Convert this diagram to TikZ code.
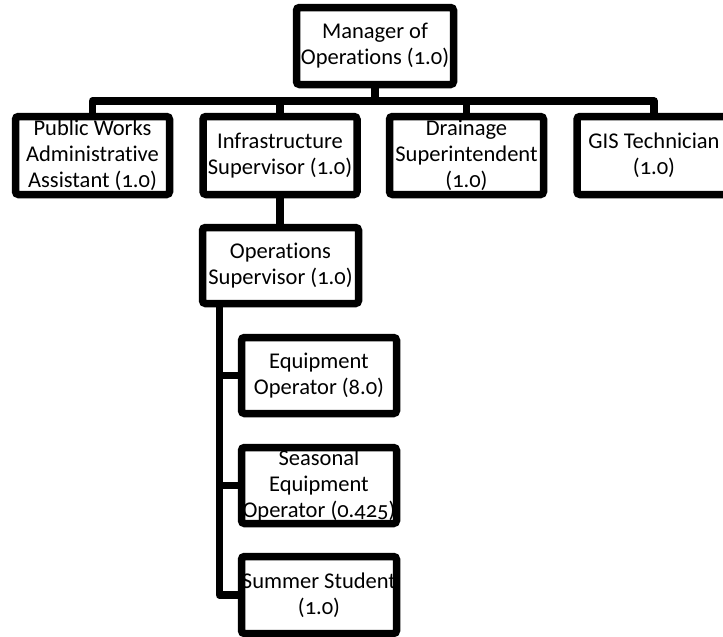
\documentclass[tikz,border=0pt]{standalone}
\usepackage{fontspec}
\setmainfont[Numbers=OldStyle,Ligatures=NoCommon]{Carlito}
\begin{document}
\begin{tikzpicture}[x=1pt,y=-1pt,
  orgbox/.style={draw=black, fill=white, line width=7.5pt, rounded corners=3pt,
    minimum width=154pt, minimum height=78pt, inner sep=0pt, align=center,
    font=\fontsize{22.5}{26}\selectfont},
  conn/.style={draw=black, line width=7.5pt, line join=round}]
\useasboundingbox (0,0) rectangle (723,637);
\begin{scope}
\clip (0,0) rectangle (723,637);
% coordinates for bus / spine
\coordinate (bus) at (0,101);
\coordinate (sp) at (219.5,0);
% nodes
\node[orgbox, minimum width=157pt, minimum height=77pt] (mgr) at (375,46) {Manager of\\Operations (1.0)};
\node[orgbox] (pwa) at (92.5,155.5) {Public Works\\Administrative\\Assistant (1.0)};
\node[orgbox] (inf) at (280,155.5) {Infrastructure\\Supervisor (1.0)};
\node[orgbox] (drn) at (466.5,155.5) {Drainage\\Superintendent\\(1.0)};
\node[orgbox] (gis) at (654,155.5) {GIS Technician\\(1.0)};
\node[orgbox, minimum width=156pt, minimum height=76pt] (ops) at (280.5,265.5) {Operations\\Supervisor (1.0)};
\node[orgbox, minimum width=155pt, minimum height=76pt] (eqp) at (319,375.5) {Equipment\\Operator (8.0)};
\node[orgbox, minimum width=155pt, minimum height=76pt] (sea) at (319,485.5) {Seasonal\\Equipment\\Operator (0.425)};
\node[orgbox, minimum width=155pt, minimum height=77pt] (sum) at (319,595) {Summer Student\\(1.0)};
% connectors
\path[conn] (mgr.south) -- (mgr.south |- bus);
\path[conn] (pwa.north) -- (pwa.north |- bus) -- (gis.north |- bus) -- (gis.north);
\path[conn] (inf.north |- bus) -- (inf.north);
\path[conn] (drn.north |- bus) -- (drn.north);
\path[conn] (inf.south) -- (ops.north -| inf.south);
\path[conn] (ops.south -| sp) |- (sum.west);
\path[conn] (sp |- eqp.west) -- (eqp.west);
\path[conn] (sp |- sea.west) -- (sea.west);
\end{scope}
\end{tikzpicture}
\end{document}
